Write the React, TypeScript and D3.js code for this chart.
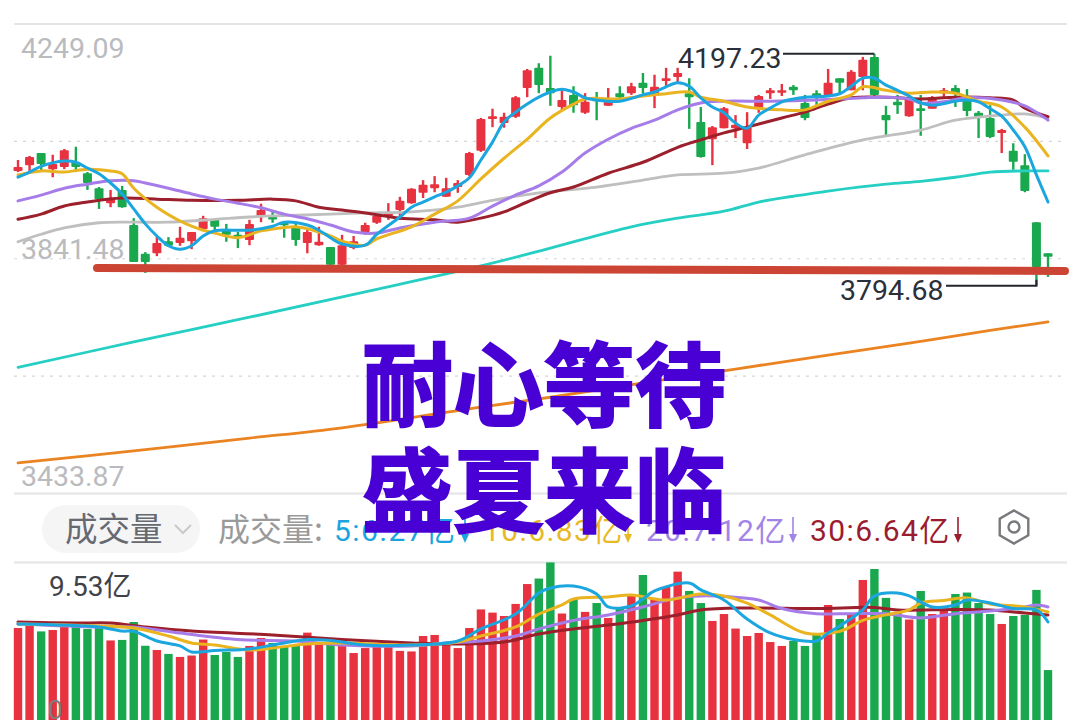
import React from "react";
import * as d3 from "d3";

const opens = [3994,4004,4025,3997,4001,4009,3990,3964,3938,3961,3900,3850,3851,3872,3869,3872,3893,3909,3891,3883,3874,3914,3914,3904,3897,3869,3865,3862,3831,3860,3888,3904,3914,3926,3938,3956,3964,3949,3966,3987,4029,4084,4077,4088,4138,4173,4138,4105,4126,4095,4121,4107,4129,4129,4147,4129,4150,4157,4129,4079,4049,4068,4068,4042,4103,4129,4131,4140,4112,4129,4126,4155,4134,4157,4192,4091,4114,4089,4103,4102,4129,4138,4122,4095,4086,4060,4029,4004,3905,3851];
const highs = [4013,4020,4025,4022,4032,4036,3992,3966,3961,3968,3912,3853,3881,3879,3897,3888,3916,3910,3902,3888,3909,3937,3923,3905,3904,3895,3897,3862,3883,3881,3904,3917,3938,3949,3964,3978,3985,3982,3978,4027,4086,4102,4095,4124,4171,4181,4194,4134,4141,4129,4131,4138,4141,4147,4164,4161,4173,4173,4155,4105,4072,4105,4091,4096,4126,4138,4145,4143,4126,4134,4171,4155,4169,4192,4197.23,4107,4126,4122,4126,4124,4138,4143,4136,4098,4108,4067,4042,4023,3905,3851];
const lows = [3992,3994,3994,3983,3997,3992,3961,3928,3931,3930,3836,3817,3846,3862,3864,3858,3891,3886,3871,3860,3865,3905,3904,3878,3864,3851,3864,3822,3822,3858,3883,3902,3909,3909,3937,3947,3957,3949,3956,3985,4027,4070,4069,4086,4122,4129,4107,4098,4095,4093,4082,4107,4114,4126,4128,4103,4141,4148,4067,4017,4004,4068,4051,4032,4095,4119,4124,4126,4082,4108,4126,4126,4134,4134,4122,4056,4093,4088,4055,4102,4122,4105,4089,4051,4051,4025,3996,3957,3794.68,3810];
const closes = [4001,4018,4006,4006,4030,4001,3973,3945,3945,3931,3836,3836,3869,3864,3878,3888,3912,3897,3883,3878,3902,3926,3910,3900,3874,3888,3871,3831,3865,3872,3900,3916,3921,3942,3963,3970,3971,3964,3973,4025,4084,4089,4088,4122,4169,4143,4129,4117,4108,4114,4115,4117,4122,4141,4138,4140,4155,4164,4122,4018,4070,4103,4074,4070,4124,4134,4134,4134,4086,4122,4147,4147,4166,4187,4126,4082,4108,4122,4098,4122,4134,4129,4098,4088,4053,4065,4010,3959,3827,3845];

const ma5Idx = [0,1,2,4,5,6,7,8,9,10,11,12,13,14,15,16,17,19,20,22,23,25,26,27,28,30,31,33,34,35,36,37,38,39,40,41,42,43,44,45,46,47,48,49,50,52,54,55,56,57,58,59,60,61,62,63,64,65,66,67,68,70,71,72,73,74,75,76,77,78,79,81,82,83,84,85,86,87,88,89];
const ma5Val = [3983,3992,4002,4011,4009,3999,3989,3973,3954,3928,3902,3881,3864,3858,3864,3881,3890,3891,3891,3898,3905,3900,3891,3878,3867,3865,3884,3914,3931,3940,3949,3957,3968,3982,4013,4044,4079,4096,4110,4122,4131,4136,4131,4121,4117,4115,4126,4131,4140,4147,4141,4121,4105,4095,4077,4068,4091,4103,4114,4119,4122,4124,4128,4141,4155,4155,4143,4134,4124,4112,4108,4115,4117,4114,4102,4089,4065,4036,3987,3940];
const ma10Idx = [0,2,4,6,8,9,10,12,14,15,16,17,19,21,22,24,26,27,28,30,31,34,36,38,40,42,44,46,48,49,52,54,56,58,59,61,63,66,68,70,72,73,75,77,79,81,83,85,87,89];
const ma10Val = [3987,3994,3992,3997,3994,3989,3964,3931,3907,3898,3891,3886,3878,3890,3893,3897,3888,3881,3872,3865,3876,3897,3919,3942,3980,4016,4049,4086,4110,4119,4119,4124,4128,4131,4122,4115,4105,4100,4100,4115,4126,4140,4134,4129,4131,4129,4115,4105,4070,4020];
const ma20Idx = [0,2,4,6,8,10,11,13,15,17,19,21,23,25,27,29,31,33,36,39,41,43,45,47,49,51,53,55,57,59,61,65,69,73,75,77,78,80,82,85,87,89];
const ma20Val = [3942,3952,3964,3971,3977,3977,3973,3964,3954,3945,3938,3930,3919,3911,3900,3888,3886,3895,3905,3912,3933,3952,3968,3992,4025,4049,4068,4082,4100,4112,4115,4115,4117,4121,4122,4119,4112,4114,4121,4117,4107,4082];
const ma30Idx = [0,2,4,6,9,12,15,19,22,24,26,28,30,33,36,38,40,42,44,46,48,51,54,57,59,61,63,66,68,70,72,75,78,81,84,86,87,89];
const ma30Val = [3910,3919,3933,3940,3947,3945,3943,3943,3945,3942,3931,3926,3921,3912,3909,3905,3912,3923,3940,3956,3966,3990,4009,4035,4048,4060,4070,4086,4096,4110,4121,4122,4119,4122,4121,4117,4103,4088];
const ma60Idx = [0,2,4,7,10,13,17,20,24,30,34,38,41,45,50,54,57,61,64,68,73,78,81,85,87,89];
const ma60Val = [3871,3884,3895,3904,3905,3905,3910,3914,3917,3921,3923,3931,3943,3956,3966,3978,3987,3990,3999,4022,4048,4065,4082,4091,4093,4086];
const ma120Idx = [0,10,20,30,40,46,53,57,61,64,67,70,75,78,81,84,87,89];
const ma120Val = [3653,3697,3740,3784,3829,3860,3897,3912,3924,3940,3950,3959,3971,3976,3983,3992,3994,3994];
const ma250Idx = [0,10,20,28,40,46,55,62,70,77,84,89];
const ma250Val = [3487,3508,3530,3548,3584,3601,3629,3650,3674,3695,3717,3732];

const volumes = [5.75,5.87,5.56,5.64,5.81,5.81,5.70,5.75,5.05,5.08,6.09,4.75,4.51,4.29,4.12,4.20,5.10,4.23,4.40,4.12,4.74,5.19,4.91,4.74,4.74,5.49,4.82,4.91,4.74,4.34,4.62,4.74,4.74,4.46,4.43,5.30,5.36,4.91,4.62,5.75,6.80,6.62,6.43,7.11,8.23,8.54,9.45,6.57,7.39,6.66,7.16,6.32,6.85,7.61,8.74,7.45,8.07,8.93,7.84,7.16,6.15,6.54,5.72,5.30,5.47,4.96,4.74,5.02,4.74,5.41,7.05,6.26,6.54,8.46,9.08,7.45,6.66,6.23,7.84,6.54,6.77,7.67,7.75,7.16,6.54,5.98,6.43,6.49,7.90,3.38];
const vma5Idx = [0,7,9,10,12,14,15,17,20,22,25,27,30,34,38,40,43,45,46,48,50,51,53,54,55,58,59,61,63,65,67,69,70,71,73,74,76,77,79,81,82,84,86,88,89];
const vma5Val = [5.98,5.81,5.58,5.56,5.02,4.74,4.40,4.48,4.57,4.79,5.10,5.05,4.79,4.79,5.02,5.70,6.54,7.73,8.01,8.12,7.67,6.94,6.99,7.39,7.84,8.29,7.90,7.33,6.26,5.47,5.10,5.02,5.47,5.87,6.77,7.56,7.73,7.56,6.94,7.05,7.33,7.16,6.85,6.77,6.09];
const vma10Idx = [0,7,10,13,15,17,20,22,25,28,34,38,40,43,45,47,48,51,53,56,59,61,63,65,68,71,73,75,77,78,80,82,84,87,89];
const vma10Val = [5.98,5.87,5.75,5.30,4.91,4.79,4.51,4.62,4.85,4.91,4.79,4.96,5.30,5.81,6.54,7.05,7.39,7.50,7.61,7.33,7.67,7.56,7.16,6.49,5.47,5.56,6.18,6.49,6.77,7.16,7.30,7.45,7.11,6.94,6.66];
const vma20Idx = [0,7,10,14,19,24,28,34,37,40,43,45,48,51,54,57,59,61,64,66,69,72,75,78,81,84,87,88,89];
const vma20Val = [5.98,5.81,5.81,5.47,5.10,5.02,4.79,4.74,4.91,5.02,5.30,5.70,6.18,6.49,6.94,7.45,7.56,7.53,7.33,6.85,6.56,6.56,6.56,6.32,6.56,6.71,6.94,7.05,6.94];
const vma30Idx = [0,5,8,11,15,22,28,34,37,42,45,48,51,54,57,59,63,69,74,76,81,84,87,89];
const vma30Val = [6.09,6.03,6.03,5.81,5.58,5.36,5.10,4.91,4.85,4.96,5.41,5.70,5.92,6.18,6.49,6.77,6.88,6.85,6.91,6.77,6.80,6.77,6.60,6.49];

const priceTicks = [4249.09, 3841.48, 3433.87];
const priceGrid = [4045.28, 3841.48, 3637.67];
const highLabel = "4197.23";
const lowLabel = "3794.68";
const maxVolLabel = "9.53亿";
const title = ["耐心等待", "盛夏来临"];
const legend = [
  { text: "5:6.27亿", x: 334, ax: 465, color: "#1ba5e0" },
  { text: "10:6.83亿", x: 483, ax: 628, color: "#e8b923" },
  { text: "20:7.12亿", x: 646, ax: 793, color: "#a284e6" },
  { text: "30:6.64亿", x: 810, ax: 958, color: "#9b1c2e" },
];

const C = {
  up: "#e8323f", down: "#1aa84f", blue: "#1ca6df", yellow: "#e9b420", purple: "#a67de8",
  dark: "#9c1f2c", grey: "#bfbfbf", teal: "#26cfc3", orange: "#ea8422",
};
const NUM = "Roboto, 'Noto Sans CJK SC', sans-serif";

export default function App() {
  const x = d3.scaleLinear().domain([0, opens.length - 1]).range([18, 1048]);
  const y = d3.scaleLinear().domain([3433.87, 4249.09]).range([493.5, 24]);
  const v = d3.scaleLinear().domain([0, 9.53]).range([730, 561]);
  const pl = (ix: number[], vals: number[]) =>
    d3.line<number>().x((_, i) => x(ix[i])).y((d) => y(d)).curve(d3.curveCatmullRom.alpha(0.5))(vals) || "";
  const vl = (ix: number[], vals: number[]) =>
    d3.line<number>().x((_, i) => x(ix[i])).y((d) => v(d)).curve(d3.curveCatmullRom.alpha(0.5))(vals) || "";
  const lo = y(3794.68), hi = y(4197.23);
  const xHi = x(74), xLo = x(88);
  const hex = d3.range(6).map((i) => {
    const a = (Math.PI / 3) * i - Math.PI / 2;
    return [1014 + 16.5 * Math.cos(a), 527 + 16.5 * Math.sin(a)].join(",");
  }).join(" ");

  return (
    <svg width={1080} height={720} style={{ position: "fixed", left: 0, top: 0, background: "#fff" }}>
      <line x1={14} x2={1067} y1={y(4249.09)} y2={y(4249.09)} stroke="#e4e4e4" strokeWidth={2} />
      <line x1={14} x2={1067} y1={y(3433.87)} y2={y(3433.87)} stroke="#e4e4e4" strokeWidth={2} />
      {priceGrid.map((g) => (
        <line key={g} x1={14} x2={1067} y1={y(g)} y2={y(g)} stroke="#d6d6d6" strokeWidth={1.2} strokeDasharray="3 6" />
      ))}
      <line x1={14} x2={1067} y1={562.5} y2={562.5} stroke="#e4e4e4" strokeWidth={2} />

      {priceTicks.map((t) => (
        <text key={t} x={21} y={y(t) + (t > 4000 ? 34 : t > 3500 ? 0 : -8)} fontFamily={NUM} fontSize={28.5} fill="#b9bbbe">{t.toFixed(2)}</text>
      ))}

      {opens.map((o, i) => {
        const c = closes[i];
        const col = c >= o ? C.up : C.down;
        const t = y(Math.max(o, c)), b = y(Math.min(o, c));
        return (
          <g key={i}>
            <line x1={x(i)} x2={x(i)} y1={y(highs[i])} y2={y(lows[i])} stroke={col} strokeWidth={2.4} />
            <rect x={x(i) - 4.5} y={t} width={9} height={Math.max(b - t, 2.5)} rx={1} fill={col} />
          </g>
        );
      })}

      <g fill="none" strokeLinejoin="round" strokeLinecap="round">
        <path d={pl(ma250Idx, ma250Val)} stroke={C.orange} strokeWidth={2.8} />
        <path d={pl(ma120Idx, ma120Val)} stroke={C.teal} strokeWidth={2.8} />
        <path d={pl(ma60Idx, ma60Val)} stroke={C.grey} strokeWidth={2.8} />
        <path d={pl(ma30Idx, ma30Val)} stroke={C.dark} strokeWidth={3} />
        <path d={pl(ma20Idx, ma20Val)} stroke={C.purple} strokeWidth={3} />
        <path d={pl(ma10Idx, ma10Val)} stroke={C.yellow} strokeWidth={3} />
        <path d={pl(ma5Idx, ma5Val)} stroke={C.blue} strokeWidth={3} />
      </g>

      <line x1={97} y1={268} x2={1065} y2={271} stroke="#cc4433" strokeWidth={8} strokeLinecap="round" />

      <text x={678} y={68} fontFamily={NUM} fontSize={28.5} fill="#2b2f3a">{highLabel}</text>
      <path d={`M783,${hi}H${xHi}`} stroke="#23262e" strokeWidth={2} fill="none" />
      <text x={840} y={300} fontFamily={NUM} fontSize={28.5} fill="#2b2f3a">{lowLabel}</text>
      <path d={`M946,${lo}H${xLo}V${lo - 6}`} stroke="#23262e" strokeWidth={2} fill="none" />

      <rect x={42} y={505} width={158} height={48} rx={24} fill="#f5f5f6" />
      <text x={65} y={541} fontFamily="'Noto Sans CJK SC'" fontSize={32.5} fill="#666a70">成交量</text>
      <path d="M175,525l8,8l8,-8" fill="none" stroke="#c9c9c9" strokeWidth={2} />
      <text x={218} y={541} fontFamily="'Noto Sans CJK SC'" fontSize={32} fill="#9a9a9a">成交量:</text>
      {legend.map((l) => (
        <g key={l.text}>
          <text x={l.x} y={541} fontFamily={NUM} fontSize={30} letterSpacing={1.4} fill={l.color}>{l.text}</text>
          <path d={`M${l.ax},517V537`} stroke={l.color} strokeWidth={1.6} />
          <path d={`M${l.ax - 4},534h8l-4,9z`} fill={l.color} />
        </g>
      ))}
      <polygon points={hex} fill="none" stroke="#77797d" strokeWidth={2.4} />
      <circle cx={1014} cy={527} r={5.5} fill="none" stroke="#77797d" strokeWidth={2.4} />

      {volumes.map((d, i) => (
        <rect key={i} x={x(i) - 4.2} y={v(d)} width={8.4} height={730 - v(d)} fill={closes[i] >= opens[i] ? C.up : C.down} />
      ))}
      <g fill="none" strokeLinejoin="round" strokeLinecap="round">
        <path d={vl(vma30Idx, vma30Val)} stroke={C.dark} strokeWidth={3} />
        <path d={vl(vma20Idx, vma20Val)} stroke={C.purple} strokeWidth={3} />
        <path d={vl(vma10Idx, vma10Val)} stroke={C.yellow} strokeWidth={3} />
        <path d={vl(vma5Idx, vma5Val)} stroke={C.blue} strokeWidth={3} />
      </g>
      <text x={49} y={596} fontFamily={NUM} fontSize={28} fill="#3f4349">{maxVolLabel}</text>
      <text x={48} y={719} fontFamily={NUM} fontSize={26} fill="#7d7d7d">0</text>

      {title.map((t, i) => (
        <text key={t} x={362} y={i === 0 ? 419 : 525} fontFamily="'Noto Sans CJK SC'" fontWeight={700} fontSize={91}
          fill="#4800d4" stroke="#4800d4" strokeWidth={2}>{t}</text>
      ))}
    </svg>
  );
}
